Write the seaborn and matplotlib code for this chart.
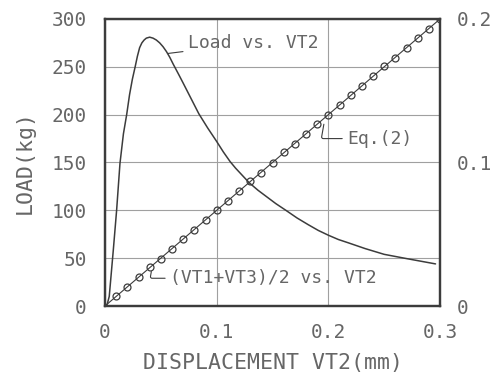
import matplotlib
matplotlib.use("Agg")
import matplotlib.pyplot as plt
import seaborn as sns
import pandas as pd

# Load vs. VT2 (displacement mm, load kg)
load_disp = [0.000, 0.002, 0.0038, 0.0074, 0.0104, 0.0134, 0.0165, 0.0194, 0.022, 0.0245,
             0.027, 0.029, 0.031, 0.033, 0.035, 0.037, 0.040, 0.043, 0.046, 0.049,
             0.052, 0.055, 0.058, 0.061, 0.066, 0.070, 0.077, 0.084, 0.092, 0.100,
             0.106, 0.112, 0.117, 0.121, 0.129, 0.137, 0.145, 0.153, 0.162, 0.172,
             0.182, 0.191, 0.200, 0.209, 0.218, 0.233, 0.250, 0.268, 0.282, 0.296]
load_kg = [0, 2, 10, 58, 100, 149, 180, 200, 221, 237,
           250, 261, 270, 275, 278, 280, 281, 280, 278, 275,
           271, 266, 260, 253, 242, 233, 217, 201, 186, 172,
           161, 151, 144, 139, 129, 121, 114, 107, 100, 92,
           85, 79, 74, 69.5, 66, 60, 54, 50, 47, 44]

# (VT1+VT3)/2 vs. VT2 (right axis, mm)
avg_disp = [0.01, 0.02, 0.03, 0.04, 0.05, 0.06, 0.07, 0.08, 0.09, 0.10,
            0.11, 0.12, 0.13, 0.14, 0.15, 0.16, 0.17, 0.18, 0.19, 0.20,
            0.21, 0.22, 0.23, 0.24, 0.25, 0.26, 0.27, 0.28, 0.29, 0.30]
avg_vt = [0.007, 0.013, 0.020, 0.027, 0.033, 0.040, 0.047, 0.053, 0.060, 0.067,
          0.073, 0.080, 0.087, 0.093, 0.100, 0.107, 0.113, 0.120, 0.127, 0.133,
          0.140, 0.147, 0.153, 0.160, 0.167, 0.173, 0.180, 0.187, 0.193, 0.200]

# Eq.(2) line
eq_disp = [0.0, 0.3]
eq_vt = [0.0, 0.2]

x_ticks = [0, 0.1, 0.2, 0.3]
x_labels = ["0", "0.1", "0.2", "0.3"]
yl_ticks = [0, 50, 100, 150, 200, 250, 300]
yl_labels = ["0", "50", "100", "150", "200", "250", "300"]
yr_ticks = [0, 0.1, 0.2]
yr_labels = ["0", "0.1", "0.2"]

sns.set_theme(style="white")
plt.rcParams["font.family"] = ["DejaVu Sans Mono", "DejaVu Sans"]

LINE = "#3c3c3c"
TEXT = "#666666"
GRID = "#a0a0a0"

fig = plt.figure(figsize=(4.94, 3.83), dpi=100)
ax = fig.add_axes([105 / 494, 77 / 383, 335 / 494, 287 / 383])
ax2 = ax.twinx()

df_load = pd.DataFrame({"disp": load_disp, "load": load_kg})
df_avg = pd.DataFrame({"disp": avg_disp, "vt": avg_vt})
df_eq = pd.DataFrame({"disp": eq_disp, "vt": eq_vt})

sns.lineplot(data=df_load, x="disp", y="load", ax=ax, color=LINE, lw=1.1,
             sort=False, estimator=None, zorder=3)
sns.lineplot(data=df_eq, x="disp", y="vt", ax=ax2, color=LINE, lw=0.8,
             estimator=None, zorder=3)
sns.lineplot(data=df_avg, x="disp", y="vt", ax=ax2, color=LINE, lw=0,
             marker="o", markersize=5, markerfacecolor="none",
             markeredgecolor=LINE, markeredgewidth=0.9, estimator=None, zorder=4)

ax.set_xlim(0, 0.3)
ax.set_ylim(0, 300)
ax2.set_ylim(0, 0.2)

ax.set_xticks(x_ticks)
ax.set_xticklabels(x_labels)
ax.set_yticks(yl_ticks)
ax.set_yticklabels(yl_labels)
ax2.set_yticks(yr_ticks)
ax2.set_yticklabels(yr_labels)

ax.grid(True, color=GRID, lw=0.8, zorder=0)
ax.set_axisbelow(True)
ax2.grid(False)

ax.tick_params(axis="both", length=0, labelsize=14, labelcolor=TEXT, pad=13)
ax.tick_params(axis="x", pad=12)
ax2.tick_params(axis="y", length=0, labelsize=14, labelcolor=TEXT, pad=12)

for a in (ax, ax2):
    for s in a.spines.values():
        s.set_color(LINE)
        s.set_linewidth(1.6)

ax.set_xlabel("DISPLACEMENT VT2(mm)", fontsize=15.5, color=TEXT, labelpad=8)
ax.set_ylabel("LOAD(kg)", fontsize=15.5, color=TEXT, labelpad=12)
ax2.set_ylabel("")
ax2.set_xlabel("")

ann_kw = dict(fontsize=13, color=TEXT, va="center", ha="left")
ax.annotate("Load vs. VT2", xy=(0.0565, 264), xytext=(0.074, 275),
            arrowprops=dict(arrowstyle="-", color=LINE, lw=0.8, shrinkA=1, shrinkB=0),
            **ann_kw)
ax.annotate("Eq.(2)", xy=(0.196, 190), xytext=(0.2166, 175),
            arrowprops=dict(arrowstyle="-", color=LINE, lw=0.8, shrinkA=1, shrinkB=0,
                            connectionstyle="angle,angleA=180,angleB=80,rad=2"),
            **ann_kw)
ax.annotate("(VT1+VT3)/2 vs. VT2", xy=(0.0415, 36), xytext=(0.058, 29),
            arrowprops=dict(arrowstyle="-", color=LINE, lw=0.8, shrinkA=1, shrinkB=0,
                            connectionstyle="angle,angleA=180,angleB=80,rad=2"),
            **ann_kw)

fig.savefig("out.png", dpi=100, facecolor="white")
